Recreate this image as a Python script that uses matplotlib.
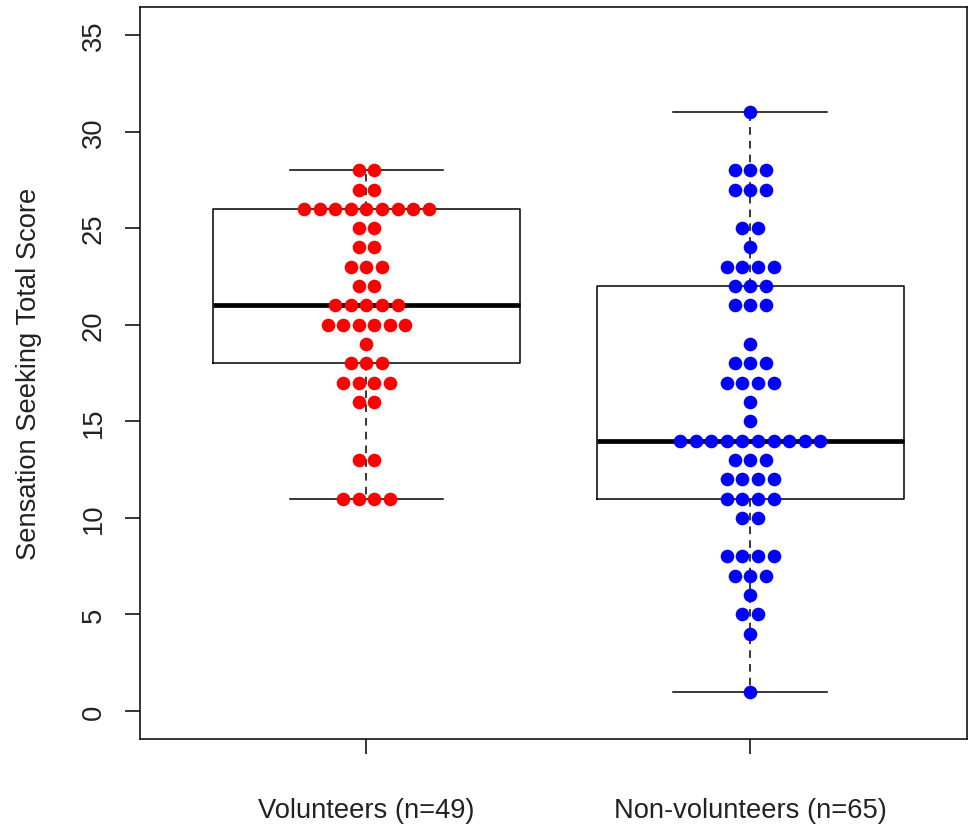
import matplotlib.pyplot as plt
import numpy as np

plt.rcParams["font.family"] = ["Liberation Sans", "DejaVu Sans"]

# score levels and how many subjects sit at each level
vol_levels = [28, 27, 26, 25, 24, 23, 22, 21, 20, 19, 18, 17, 16, 13, 11]
vol_counts = [2, 2, 9, 2, 2, 3, 2, 5, 6, 1, 3, 4, 2, 2, 4]

non_levels = [31, 28, 27, 25, 24, 23, 22, 21, 19, 18, 17, 16, 15, 14, 13, 12, 11, 10, 8, 7, 6, 5, 4, 1]
non_counts = [1, 3, 3, 2, 1, 4, 3, 3, 1, 3, 4, 1, 1, 10, 3, 4, 4, 2, 4, 3, 1, 2, 1, 1]

group_labels = ["Volunteers (n=49)", "Non-volunteers (n=65)"]
group_colors = ["#FF0000", "#0000FF"]
y_ticks = [0, 5, 10, 15, 20, 25, 30, 35]

TEXT = "#222222"
FS = 19.7


def expand(levels, counts):
    return np.repeat(levels, counts).astype(float)


def swarm(ax, levels, counts, pos, color, spacing=0.0405):
    xs, ys = [], []
    for lev, k in zip(levels, counts):
        offs = (np.arange(k) - (k - 1) / 2) * spacing
        xs.extend(pos + offs)
        ys.extend([lev] * k)
    ax.plot(xs, ys, "o", color=color, markersize=9.8, markeredgewidth=0, zorder=5)


fig = plt.figure(figsize=(9.69, 8.29), dpi=100)
ax = fig.add_axes([0.1445, 0.1074, 0.8535, 0.8829])

data = [expand(vol_levels, vol_counts), expand(non_levels, non_counts)]
ax.boxplot(
    data,
    positions=[1, 2],
    widths=0.8,
    capwidths=0.4,
    showfliers=False,
    boxprops=dict(color="black", linewidth=1.1),
    whiskerprops=dict(color="black", linewidth=1.1, linestyle=(0, (5, 4))),
    capprops=dict(color="black", linewidth=1.1),
    medianprops=dict(color="black", linewidth=3.4, solid_capstyle="butt"),
)

swarm(ax, vol_levels, vol_counts, 1, group_colors[0])
swarm(ax, non_levels, non_counts, 2, group_colors[1])

ax.set_xlim(0.41, 2.565)
ax.set_ylim(-1.45, 36.45)
ax.set_xticks([1, 2])
ax.set_xticklabels(group_labels, fontsize=FS, color=TEXT)
ax.set_yticks(y_ticks)
ax.set_yticklabels([str(t) for t in y_ticks], fontsize=FS, rotation=90, va="center", color=TEXT)
ax.set_ylabel("Sensation Seeking Total Score", fontsize=FS, labelpad=28, color=TEXT)

ax.tick_params(axis="y", length=11, width=1.1, pad=13)
ax.tick_params(axis="x", length=11, width=1.1, pad=31)
for sp in ax.spines.values():
    sp.set_linewidth(1.1)

fig.savefig("out.png", dpi=100)
